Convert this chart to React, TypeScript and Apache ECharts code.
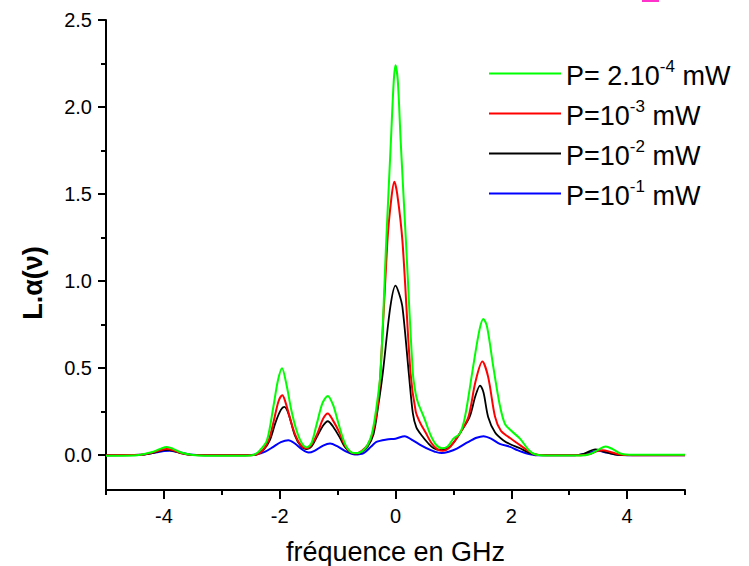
import React, { useEffect, useRef } from "react";
import * as echarts from "echarts";

const FONT = "'Liberation Sans', Arial, Helvetica, sans-serif";

const xMajor = [-4, -2, 0, 2, 4];
const xMinor = [-5, -3, -1, 1, 3, 5];
const yMajor = [0, 0.5, 1, 1.5, 2, 2.5];
const yMinor = [0.25, 0.75, 1.25, 1.75, 2.25];

const legendBase = ["P= 2.10", "P=10", "P=10", "P=10"];
const legendExp = ["-4", "-3", "-2", "-1"];
const seriesNames = ["P= 2.10-4 mW", "P=10-3 mW", "P=10-2 mW", "P=10-1 mW"];
const seriesColors = ["#00ff00", "#ff0000", "#000000", "#0000ff"];

const green: [number, number][] = [
  [-5, -0.003], [-4.5, -0.002], [-4.4, 0.003], [-4.2, 0.018], [-4.05, 0.038], [-3.95, 0.047], [-3.85, 0.038],
  [-3.7, 0.015], [-3.5, 0.001], [-3.3, -0.003], [-2.6, -0.003], [-2.45, 0.002], [-2.35, 0.025], [-2.22, 0.086],
  [-2.11, 0.277], [-2.03, 0.43], [-1.96, 0.5], [-1.88, 0.4], [-1.8, 0.26], [-1.71, 0.143], [-1.62, 0.07],
  [-1.53, 0.045], [-1.45, 0.07], [-1.36, 0.18], [-1.26, 0.3], [-1.17, 0.34], [-1.08, 0.29], [-1.0, 0.2],
  [-0.93, 0.12], [-0.85, 0.05], [-0.75, 0.015], [-0.65, 0.012], [-0.55, 0.03], [-0.48, 0.06], [-0.41, 0.12],
  [-0.34, 0.25], [-0.26, 0.47], [-0.16, 1.23], [-0.08, 1.8], [-0.03, 2.15], [0, 2.24], [0.04, 2.15],
  [0.09, 1.8], [0.18, 1.23], [0.3, 0.47], [0.35, 0.35], [0.39, 0.3], [0.5, 0.21], [0.6, 0.12], [0.7, 0.06],
  [0.8, 0.04], [0.9, 0.05], [1.0, 0.095], [1.11, 0.124], [1.2, 0.22], [1.34, 0.506], [1.45, 0.72],
  [1.517, 0.783], [1.58, 0.74], [1.69, 0.506], [1.8, 0.29], [1.89, 0.18], [2.0, 0.14], [2.15, 0.095],
  [2.3, 0.03], [2.41, 0.005], [2.6, -0.002], [3.2, -0.002], [3.35, 0.005], [3.5, 0.03], [3.63, 0.05],
  [3.75, 0.035], [3.9, 0.008], [4.1, 0.002], [5, 0.002],
];

const red: [number, number][] = [
  [-5, 0], [-4.4, 0.002], [-4.2, 0.015], [-4.05, 0.03], [-3.95, 0.035], [-3.85, 0.03], [-3.7, 0.012],
  [-3.5, 0.001], [-2.5, 0], [-2.4, 0.004], [-2.3, 0.025], [-2.19, 0.086], [-2.1, 0.2], [-2.02, 0.31],
  [-1.955, 0.344], [-1.91, 0.315], [-1.82, 0.21], [-1.74, 0.124], [-1.64, 0.06], [-1.53, 0.04], [-1.45, 0.06],
  [-1.35, 0.124], [-1.25, 0.21], [-1.17, 0.24], [-1.08, 0.2], [-0.96, 0.124], [-0.88, 0.06], [-0.78, 0.018],
  [-0.68, 0.01], [-0.58, 0.025], [-0.48, 0.06], [-0.4, 0.12], [-0.32, 0.25], [-0.26, 0.47], [-0.14, 1.23],
  [-0.07, 1.48], [-0.02, 1.571], [0.03, 1.5], [0.12, 1.23], [0.26, 0.47], [0.35, 0.25], [0.42, 0.19],
  [0.52, 0.13], [0.62, 0.07], [0.72, 0.035], [0.82, 0.025], [0.92, 0.04], [1.02, 0.08], [1.12, 0.13],
  [1.26, 0.22], [1.38, 0.42], [1.5, 0.538], [1.6, 0.45], [1.72, 0.22], [1.82, 0.14], [1.95, 0.105],
  [2.1, 0.07], [2.27, 0.03], [2.4, 0.005], [2.6, 0], [3.2, 0], [3.35, 0.006], [3.5, 0.025], [3.58, 0.028],
  [3.7, 0.02], [3.85, 0.005], [4.1, 0], [5, 0],
];

const black: [number, number][] = [
  [-5, 0], [-4.4, 0.002], [-4.2, 0.012], [-4.05, 0.026], [-3.95, 0.03], [-3.85, 0.026], [-3.7, 0.01],
  [-3.5, 0], [-2.5, 0], [-2.4, 0.004], [-2.28, 0.03], [-2.17, 0.086], [-2.07, 0.19], [-1.98, 0.26],
  [-1.92, 0.277], [-1.85, 0.24], [-1.74, 0.115], [-1.64, 0.055], [-1.53, 0.035], [-1.45, 0.05], [-1.35, 0.11],
  [-1.25, 0.17], [-1.17, 0.195], [-1.08, 0.165], [-0.96, 0.1], [-0.88, 0.05], [-0.78, 0.015], [-0.68, 0.008],
  [-0.58, 0.02], [-0.48, 0.05], [-0.38, 0.12], [-0.3, 0.28], [-0.22, 0.47], [-0.09, 0.85], [0, 0.974],
  [0.06, 0.93], [0.12, 0.85], [0.23, 0.47], [0.3, 0.24], [0.36, 0.16], [0.46, 0.11], [0.56, 0.07],
  [0.66, 0.04], [0.78, 0.03], [0.9, 0.04], [1.0, 0.07], [1.12, 0.13], [1.28, 0.22], [1.38, 0.34],
  [1.46, 0.4], [1.52, 0.36], [1.6, 0.22], [1.72, 0.13], [1.86, 0.086], [2.0, 0.06], [2.15, 0.04],
  [2.3, 0.015], [2.45, 0.002], [2.6, 0], [3.1, 0], [3.25, 0.008], [3.45, 0.033], [3.6, 0.02], [3.8, 0.003],
  [4.0, 0], [5, 0],
];

const blue: [number, number][] = [
  [-5, 0], [-4.4, 0.002], [-4.2, 0.012], [-4.0, 0.024], [-3.9, 0.026], [-3.75, 0.018], [-3.55, 0.004],
  [-3.3, 0], [-2.6, 0], [-2.4, 0.004], [-2.25, 0.02], [-2.11, 0.048], [-1.98, 0.075], [-1.85, 0.086],
  [-1.75, 0.07], [-1.6, 0.03], [-1.5, 0.015], [-1.4, 0.025], [-1.25, 0.055], [-1.13, 0.067], [-1.0, 0.05],
  [-0.85, 0.02], [-0.7, 0.004], [-0.55, 0.012], [-0.42, 0.05], [-0.33, 0.076], [-0.15, 0.09], [0.0, 0.095],
  [0.16, 0.109], [0.3, 0.085], [0.45, 0.055], [0.6, 0.03], [0.68, 0.02], [0.8, 0.012], [0.92, 0.02],
  [1.06, 0.038], [1.25, 0.075], [1.4, 0.1], [1.52, 0.109], [1.65, 0.095], [1.8, 0.065], [1.98, 0.048],
  [2.1, 0.03], [2.27, 0.01], [2.45, 0], [3.1, 0], [3.3, 0.01], [3.5, 0.025], [3.65, 0.015], [3.85, 0.002],
  [4.0, 0], [5, 0],
];

const seriesData = [green, red, black, blue];

export default function App() {
  const ref = useRef<HTMLDivElement>(null);
  useEffect(() => {
    if (!ref.current) return;
    const chart = echarts.init(ref.current, null, { renderer: "svg" });
    const axisLine = { onZero: false, lineStyle: { color: "#000", width: 2 } };
    const tickStyle = { color: "#000", width: 2 };
    const labelStyle = { fontSize: 20, color: "#000", fontFamily: FONT };
    const drawOrder = [3, 2, 1, 0];
    chart.setOption({
      animation: false,
      backgroundColor: "#fff",
      grid: { left: 106, top: 20, width: 579, height: 470, outerBoundsMode: "none" },
      xAxis: [
        {
          type: "value", min: -5, max: 5, position: "bottom",
          axisLine,
          axisTick: { customValues: xMajor, length: 9, lineStyle: tickStyle },
          axisLabel: { customValues: xMajor, margin: 16, ...labelStyle },
          splitLine: { show: false },
          name: "fréquence en GHz", nameLocation: "middle", nameGap: 48,
          nameTextStyle: { fontSize: 27, color: "#000", fontFamily: FONT },
        },
        {
          type: "value", min: -5, max: 5, position: "bottom",
          axisLine: { show: false, onZero: false },
          axisTick: { customValues: xMinor, length: 5, lineStyle: tickStyle },
          axisLabel: { show: false },
          splitLine: { show: false },
        },
      ],
      yAxis: [
        {
          type: "value", min: -0.2, max: 2.5, position: "left",
          axisLine,
          axisTick: { customValues: yMajor, length: 8, lineStyle: tickStyle },
          axisLabel: { customValues: yMajor, margin: 14, formatter: (v: number) => v.toFixed(1), ...labelStyle },
          splitLine: { show: false },
        },
        {
          type: "value", min: -0.2, max: 2.5, position: "left",
          axisLine: { show: false, onZero: false },
          axisTick: { customValues: yMinor, length: 5, lineStyle: tickStyle },
          axisLabel: { show: false },
          splitLine: { show: false },
        },
      ],
      legend: {
        data: seriesNames,
        orient: "vertical",
        left: 484,
        top: 53,
        itemWidth: 72,
        itemHeight: 2,
        itemGap: 9,
        icon: "rect",
        formatter: (name: string) => {
          const i = seriesNames.indexOf(name);
          return `{b|${legendBase[i]}}{s|${legendExp[i]}}{b| mW}`;
        },
        textStyle: {
          color: "#000",
          fontFamily: FONT,
          rich: {
            b: { fontSize: 27, lineHeight: 31, fontFamily: FONT, color: "#000", verticalAlign: "bottom" },
            s: { fontSize: 17, lineHeight: 17, fontFamily: FONT, color: "#000", verticalAlign: "top" },
          },
        },
      },
      graphic: [
        {
          type: "text", x: 33, y: 283, rotation: Math.PI / 2,
          style: { text: "L.α(ν)", font: `bold 27px ${FONT}`, fill: "#000", textAlign: "center", textVerticalAlign: "middle" },
        },
        { type: "rect", shape: { x: 642, y: 0, width: 17, height: 2 }, style: { fill: "#ff33cc" } },
        { type: "line", shape: { x1: 106, y1: 489, x2: 106, y2: 494 }, style: { stroke: "#000", lineWidth: 2 } },
      ],
      series: drawOrder.map((i) => ({
        type: "line",
        name: seriesNames[i],
        data: seriesData[i],
        xAxisIndex: 0,
        yAxisIndex: 0,
        showSymbol: false,
        symbol: "none",
        smooth: 0.3,
        color: seriesColors[i],
        lineStyle: { color: seriesColors[i], width: i === 2 ? 1.8 : 2 },
      })),
    });
    return () => chart.dispose();
  }, []);
  return <div ref={ref} style={{ position: "absolute", left: 0, top: 0, width: 749, height: 566 }} />;
}
